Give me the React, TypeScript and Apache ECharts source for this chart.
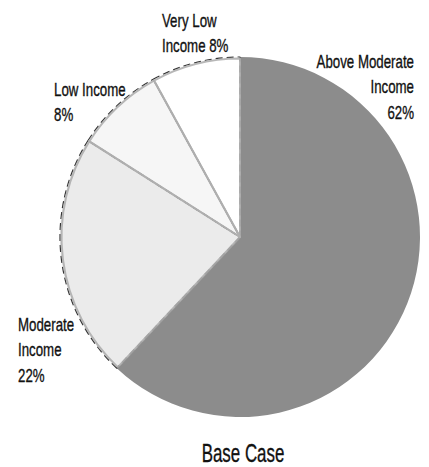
import React, { useEffect, useRef } from "react";
import * as echarts from "echarts";

const categories = ["Above Moderate Income", "Moderate Income", "Low Income", "Very Low Income"];
const values = [62, 22, 8, 8];
const sliceColors = ["#8c8c8c", "#ebebeb", "#f6f6f6", "#ffffff"];
const labelTexts = [
  `Above Moderate\nIncome\n${values[0]}%`,
  `Moderate\nIncome\n${values[1]}%`,
  `Low Income\n${values[2]}%`,
  `Very Low\nIncome ${values[3]}%`,
];
const chartTitle = "Base Case";

const FONT = "'Liberation Sans', Arial, sans-serif";

export default function App() {
  const ref = useRef<HTMLDivElement>(null);
  useEffect(() => {
    if (!ref.current) return;
    const chart = echarts.init(ref.current, null, { renderer: "svg" });
    const labelPos = [
      { x: 414, y: 48, align: "right" },
      { x: 18, y: 311, align: "left" },
      { x: 54, y: 76, align: "left" },
      { x: 162, y: 7, align: "left" },
    ];
    const pieBase = {
      type: "pie",
      center: [240, 237],
      startAngle: 90,
      clockwise: true,
      silent: true,
      label: { show: false },
      labelLine: { show: false },
    };
    chart.setOption({
      animation: false,
      backgroundColor: "#ffffff",
      series: [
        {
          ...pieBase,
          radius: [0, 180],
          z: 2,
          data: categories.map((c, i) => ({
            name: c,
            value: values[i],
            itemStyle: {
              color: sliceColors[i],
              borderColor: i === 0 ? "transparent" : "rgba(20,20,20,0.85)",
              borderWidth: 1.2,
              borderType: [7, 4],
            },
          })),
        },
        {
          ...pieBase,
          radius: [0, 178.5],
          z: 3,
          data: categories.map((c, i) => ({
            name: c,
            value: values[i],
            itemStyle: {
              color: "transparent",
              borderColor: i === 0 ? "transparent" : "rgba(175,175,175,0.9)",
              borderWidth: 2,
            },
          })),
        },
      ],
      graphic: [
        ...labelTexts.map((t, i) => ({
          type: "text",
          x: labelPos[i].x,
          y: labelPos[i].y,
          scaleX: 0.7,
          silent: true,
          style: {
            text: t,
            font: `19px ${FONT}`,
            fill: "#111",
            stroke: "#111",
            lineWidth: 0.35,
            textAlign: labelPos[i].align,
            textVerticalAlign: "top",
            lineHeight: 25.5,
          },
        })),
        {
          type: "text",
          x: 243,
          y: 453,
          scaleX: 0.65,
          silent: true,
          style: {
            text: chartTitle,
            font: `26px ${FONT}`,
            fill: "#111",
            stroke: "#111",
            lineWidth: 0.35,
            textAlign: "center",
            textVerticalAlign: "middle",
          },
        },
      ],
    });
    return () => chart.dispose();
  }, []);
  return (
    <div
      ref={ref}
      style={{ position: "fixed", left: 0, top: 0, width: 429, height: 467, background: "#fff" }}
    />
  );
}
